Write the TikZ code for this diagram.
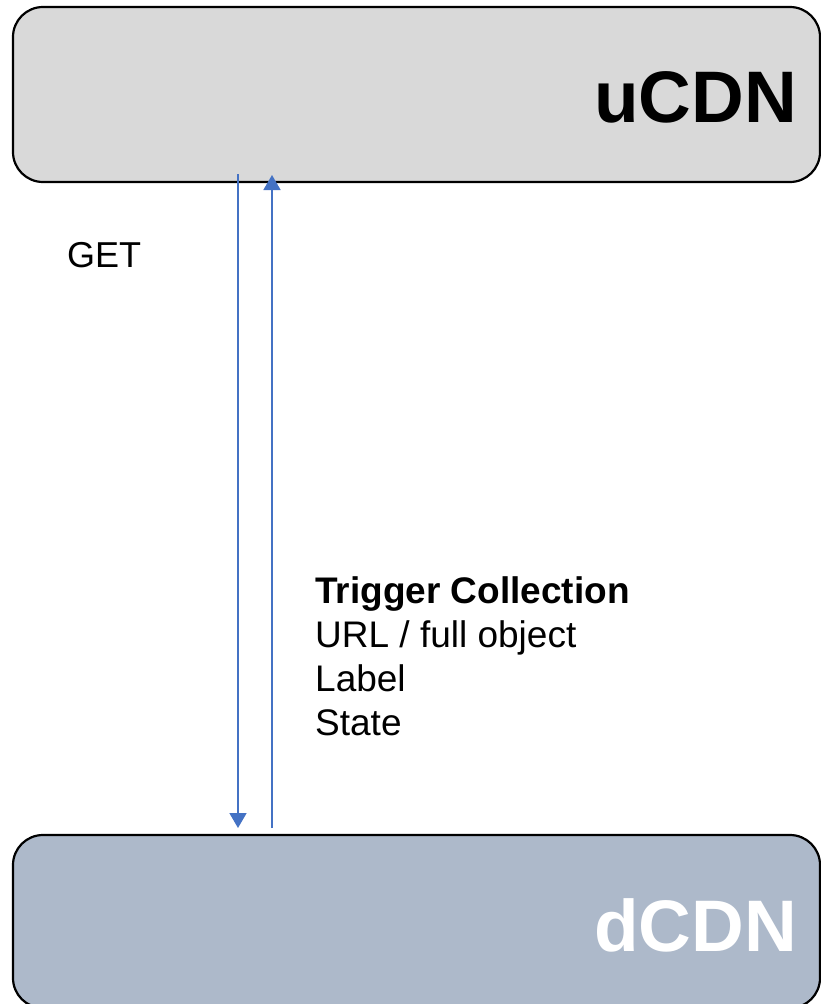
\documentclass[tikz,border=0pt]{standalone}
\usepackage{fontspec}
\setmainfont{Liberation Sans}
\usetikzlibrary{arrows.meta}
\definecolor{ugray}{HTML}{D9D9D9}
\definecolor{dblue}{HTML}{ADB9CA}
\definecolor{arrblue}{HTML}{4472C4}
\tikzset{
  cdnbox/.style={draw=black, line width=2.2pt, rounded corners=30pt},
  flow/.style={draw=arrblue, line width=1.7pt, -{Triangle[length=15pt,width=17pt]}},
  bigtxt/.style={anchor=base east, inner sep=0pt, font=\fontsize{73}{80}\selectfont\bfseries},
  lbl/.style={anchor=base west, inner sep=0pt, font=\fontsize{37}{44}\selectfont},
}
\begin{document}
\begin{tikzpicture}[x=1pt,y=-1pt]
\useasboundingbox (0,0) rectangle (821,1004);
\begin{scope}
\clip (0,0) rectangle (821,1004);
\path[cdnbox, fill=ugray] (13,7) rectangle (820,182);
\path[cdnbox, fill=dblue] (13,835) rectangle (820,1008);
\end{scope}
\node[bigtxt, text=black] (ucdn) at (797,122) {uCDN};
\node[bigtxt, text=white] (dcdn) at (797,951) {dCDN};
\coordinate (d1) at (238,174);
\coordinate (d2) at (238,828);
\coordinate (u1) at (272,828);
\coordinate (u2) at (272,175);
\draw[flow] (d1) -- (d2);
\draw[flow] (u1) -- (u2);
\node[lbl, font=\fontsize{36}{42}\selectfont] (get) at (67,267) {GET};
\node[lbl, font=\fontsize{37}{44}\selectfont\bfseries] (t1) at (315,603) {Trigger Collection};
\node[lbl] (t2) at (315,647) {URL / full object};
\node[lbl] (t3) at (315,691) {Label};
\node[lbl] (t4) at (315,735) {State};
\end{tikzpicture}
\end{document}
